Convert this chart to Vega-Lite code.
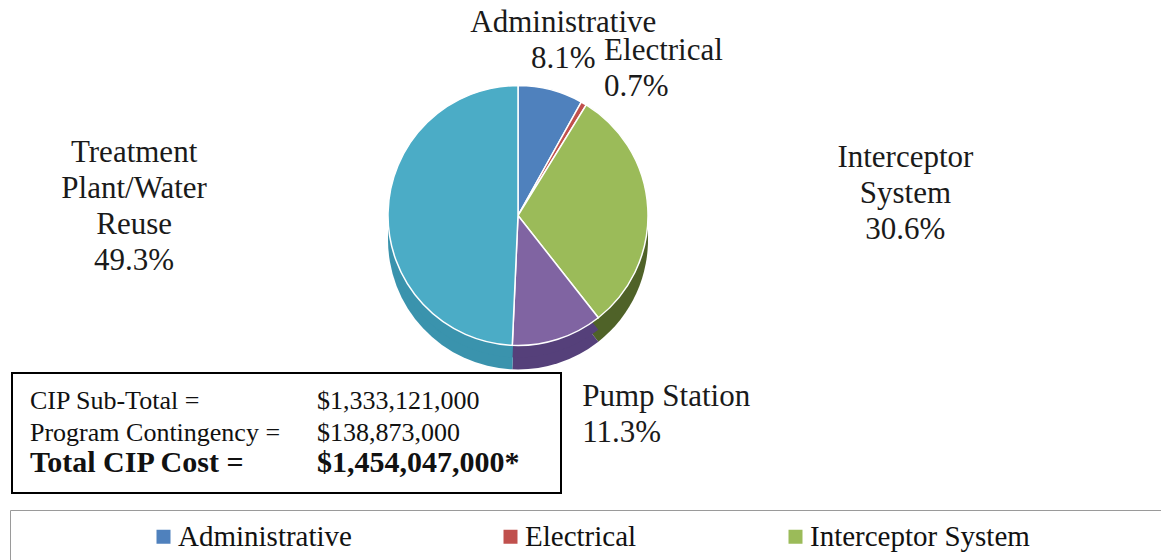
{
  "$schema": "https://vega.github.io/schema/vega-lite/v6.json",
  "background": "white",
  "padding": {"left": 9, "top": 0, "right": 0, "bottom": 0},
  "bounds": "flush",
  "spacing": 10,
  "config": {"view": {"stroke": null}, "font": "Liberation Serif"},
  "datasets": {
    "costs": [
      {"idx": 1, "category": "Administrative", "pct": 8.1, "label": "Administrative\n8.1%"},
      {"idx": 2, "category": "Electrical", "pct": 0.7, "label": "Electrical\n0.7%"},
      {"idx": 3, "category": "Interceptor System", "pct": 30.6, "label": "Interceptor\nSystem\n30.6%"},
      {"idx": 4, "category": "Pump Station", "pct": 11.3, "label": "Pump Station\n11.3%"},
      {"idx": 5, "category": "Treatment Plant/Water Reuse", "pct": 49.3, "label": "Treatment\nPlant/Water\nReuse\n49.3%"}
    ],
    "summary": [
      {"row": 1, "item": "CIP Sub-Total =", "amount": "$1,333,121,000"},
      {"row": 2, "item": "Program Contingency =", "amount": "$138,873,000"},
      {"row": 3, "item": "Total CIP Cost =", "amount": "$1,454,047,000*"}
    ]
  },
  "vconcat": [
    {
      "width": 1012,
      "height": 363,
      "data": {"name": "costs"},
      "layer": [
        {
          "mark": {"type": "arc", "outerRadius": 130, "yOffset": 58},
          "encoding": {
            "theta": {"field": "pct", "type": "quantitative", "stack": true},
            "order": {"field": "idx", "type": "quantitative"},
            "color": {"field": "category", "type": "nominal", "legend": null,
              "scale": {"domain": ["Administrative", "Electrical", "Interceptor System", "Pump Station", "Treatment Plant/Water Reuse"],
                        "range": ["#375f8e", "#8e3432", "#4f6228", "#55407a", "#3a93ad"]}}
          }
        },
        {
          "mark": {"type": "arc", "outerRadius": 130, "yOffset": 46},
          "encoding": {
            "theta": {"field": "pct", "type": "quantitative", "stack": true},
            "order": {"field": "idx", "type": "quantitative"},
            "color": {"field": "category", "type": "nominal", "legend": null,
              "scale": {"domain": ["Administrative", "Electrical", "Interceptor System", "Pump Station", "Treatment Plant/Water Reuse"],
                        "range": ["#375f8e", "#8e3432", "#4f6228", "#55407a", "#3a93ad"]}}
          }
        },
        {
          "mark": {"type": "arc", "outerRadius": 130, "yOffset": 34, "stroke": "white", "strokeWidth": 1.5},
          "encoding": {
            "theta": {"field": "pct", "type": "quantitative", "stack": true},
            "order": {"field": "idx", "type": "quantitative"},
            "color": {"field": "category", "type": "nominal",
              "scale": {"domain": ["Administrative", "Electrical", "Interceptor System", "Pump Station", "Treatment Plant/Water Reuse"],
                        "range": ["#4f81bd", "#c0504d", "#9bbb59", "#8064a2", "#4bacc6"]},
              "legend": {
                "orient": "none", "legendX": -2, "legendY": 510, "direction": "horizontal",
                "title": " ", "titleOrient": "left", "titleFontSize": 1, "titlePadding": 127,
                "padding": 12, "strokeColor": "#9a9a9a", "fillColor": "white",
                "symbolType": "square", "symbolSize": 196, "symbolStrokeWidth": 0,
                "labelFont": "Liberation Serif", "labelFontSize": 29, "labelColor": "#111111",
                "labelOffset": 0, "columnPadding": 144, "labelLimit": 500
              }}
          }
        },
        {
          "mark": {"type": "text", "font": "Liberation Serif", "fontSize": 31, "lineBreak": "\n", "lineHeight": 36,
                   "baseline": "middle", "fill": "#1a1a1a", "yOffset": 34,
                   "dy": {"expr": "-(length(split(datum.label, '\\n')) - 1) * 18"},
                   "radius": {"expr": "datum.category === 'Administrative' ? 180 : datum.category === 'Electrical' ? 170 : datum.category === 'Interceptor System' ? 388 : datum.category === 'Pump Station' ? 210 : 384"},
                   "align": {"expr": "(datum.category === 'Electrical' || datum.category === 'Pump Station') ? 'left' : 'center'"}},
          "encoding": {
            "theta": {"field": "pct", "type": "quantitative", "stack": true},
            "order": {"field": "idx", "type": "quantitative"},
            "text": {"field": "label"}
          }
        }
      ],
      "resolve": {"scale": {"color": "independent"}}
    },
    {
      "width": 549,
      "height": 120,
      "view": {"stroke": "#000000", "strokeWidth": 2},
      "data": {"name": "summary"},
      "encoding": {
        "y": {"field": "row", "type": "ordinal", "axis": null, "scale": {"type": "point", "padding": 0.905}}
      },
      "layer": [
        {
          "transform": [{"filter": "datum.row < 3"}],
          "mark": {"type": "text", "font": "Liberation Serif", "fontSize": 26, "align": "left", "baseline": "alphabetic", "dx": -256.5, "dy": 7.5, "fill": "#111111"},
          "encoding": {"text": {"field": "item"}}
        },
        {
          "transform": [{"filter": "datum.row < 3"}],
          "mark": {"type": "text", "font": "Liberation Serif", "fontSize": 26, "align": "left", "baseline": "alphabetic", "dx": 30.5, "dy": 7.5, "fill": "#111111"},
          "encoding": {"text": {"field": "amount"}}
        },
        {
          "transform": [{"filter": "datum.row == 3"}],
          "mark": {"type": "text", "font": "Liberation Serif", "fontSize": 30, "fontWeight": "bold", "align": "left", "baseline": "alphabetic", "dx": -256.5, "dy": 7.5, "fill": "#111111"},
          "encoding": {"text": {"field": "item"}}
        },
        {
          "transform": [{"filter": "datum.row == 3"}],
          "mark": {"type": "text", "font": "Liberation Serif", "fontSize": 30, "fontWeight": "bold", "align": "left", "baseline": "alphabetic", "dx": 30.5, "dy": 7.5, "fill": "#111111"},
          "encoding": {"text": {"field": "amount"}}
        }
      ]
    }
  ]
}
